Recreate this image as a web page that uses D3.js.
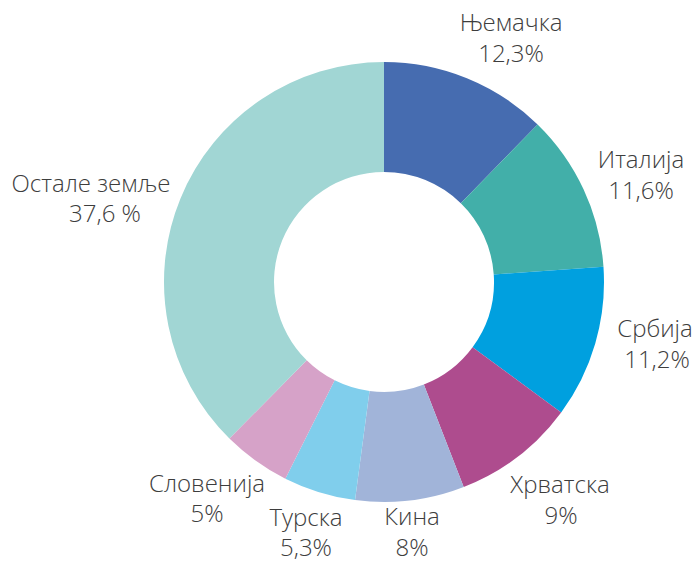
<!DOCTYPE html>
<html>
<head>
<meta charset="utf-8">
<script src="https://cdn.jsdelivr.net/npm/d3@7"></script>
<style>
  html, body { margin: 0; padding: 0; background: #fff; }
  svg text { font-family: "Open Sans", "Noto Sans", sans-serif; font-weight: 300; fill: #3d3d3d; }
</style>
</head>
<body>
<svg id="chart"></svg>
<script>
// data
const countries = ['Њемачка', 'Италија', 'Србија', 'Хрватска', 'Кина', 'Турска', 'Словенија', 'Остале земље']
const shares = [12.3, 11.6, 11.2, 9, 8, 5.3, 5, 37.6]
const shareLabels = ['12,3%', '11,6%', '11,2%', '9%', '8%', '5,3%', '5%', '37,6 %']
const colors = ['#466cb0', '#42afa9', '#00a0df', '#ae4c8e', '#a1b4d9', '#80ceec', '#d6a2c8', '#a1d6d4']

const width = 696
const height = 565
const cx = 384
const cy = 282
const outerR = 220
const innerR = 110

// label anchors (centre of name line, baseline), relative to the page
const labelPos = [
  [511, 31], [641, 168], [655, 337], [560, 493],
  [412, 525], [306, 526], [207, 492], [91, 192]
]
const valueDx = [0, 0, 2, 1, 0, 0, 0, 14]
const valueDy = [31, 31, 31, 31, 31, 30, 30, 30]

const svg = d3.select('#chart')
  .attr('width', width)
  .attr('height', height)

const g = svg.append('g')
  .attr('transform', `translate(${cx},${cy})`)

const pie = d3.pie()
  .sort(null)
  .value((d) => d)

const arc = d3.arc()
  .innerRadius(innerR)
  .outerRadius(outerR)

g.selectAll('.slice')
  .data(pie(shares))
  .enter()
  .append('path')
  .attr('class', 'slice')
  .attr('d', arc)
  .attr('fill', (d, i) => colors[i])

// labels
const label = svg.selectAll('.label')
  .data(countries)
  .enter()
  .append('g')
  .attr('class', 'label')
  .attr('transform', (d, i) => `translate(${labelPos[i][0]},${labelPos[i][1]})`)

label.append('text')
  .attr('text-anchor', 'middle')
  .attr('font-size', '24px')
  .text((d) => d)

label.append('text')
  .attr('text-anchor', 'middle')
  .attr('font-size', '24px')
  .attr('x', (d, i) => valueDx[i])
  .attr('y', (d, i) => valueDy[i])
  .text((d, i) => shareLabels[i])
</script>
</body>
</html>
